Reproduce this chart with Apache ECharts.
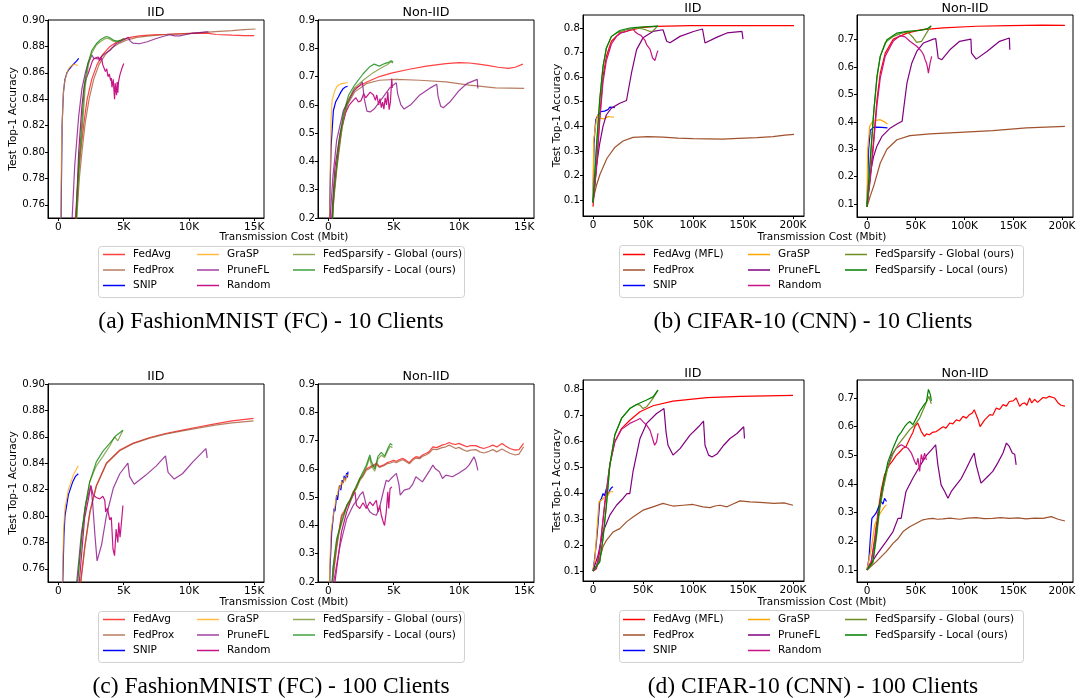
<!DOCTYPE html>
<html>
<head>
<meta charset="utf-8">
<title>FedSparsify transmission cost</title>
<script src="https://cdn.jsdelivr.net/npm/echarts@6/dist/echarts.min.js"></script>
<style>
  html, body { margin: 0; padding: 0; background: #fff; }
  #chart { width: 1080px; height: 698px; }
</style>
</head>
<body>
<div id="chart"></div>
<script>
// x values are transmission cost in K Mbit, y values are test top-1 accuracy
const fmNames = ['FedAvg', 'FedProx', 'SNIP', 'GraSP', 'PruneFL', 'Random',
  'FedSparsify - Global (ours)', 'FedSparsify - Local (ours)'];
const cifarNames = ['FedAvg (MFL)', 'FedProx', 'SNIP', 'GraSP', 'PruneFL', 'Random',
  'FedSparsify - Global (ours)', 'FedSparsify - Local (ours)'];

const fmXTicks = [0, 5, 10, 15];
const cifarXTicks = [0, 50, 100, 150, 200];
const fmIidYTicks = [0.76, 0.78, 0.80, 0.82, 0.84, 0.86, 0.88, 0.90];
const fmNonYTicks = [0.2, 0.3, 0.4, 0.5, 0.6, 0.7, 0.8, 0.9];
const cifarIidYTicks = [0.1, 0.2, 0.3, 0.4, 0.5, 0.6, 0.7, 0.8];
const cifarNonYTicks = [0.1, 0.2, 0.3, 0.4, 0.5, 0.6, 0.7];

// ---- (a) FashionMNIST - 10 clients, IID
const aIidFedAvg = [[1.1,0.60],[1.3,0.75],[1.5,0.78],[1.7,0.80],[1.95,0.822],[2.2,0.84],[2.55,0.855],[2.95,0.866],[3.4,0.874],[3.95,0.880],[4.5,0.8835],[5.0,0.8855],[5.6,0.887],[6.2,0.888],[7.2,0.8888],[8.3,0.8892],[9.5,0.8897],[10.8,0.890],[11.5,0.8898],[12.1,0.889],[13.3,0.8885],[14.2,0.8882],[15.0,0.8882]];
const aIidFedProx = [[1.2,0.6],[1.4,0.75],[1.6,0.78],[1.8,0.80],[2.05,0.822],[2.35,0.84],[2.7,0.855],[3.1,0.866],[3.6,0.874],[4.1,0.879],[4.7,0.8825],[5.3,0.885],[6.0,0.8868],[7.0,0.888],[8.3,0.889],[9.5,0.8895],[10.8,0.8902],[12.0,0.8912],[13.3,0.892],[14.2,0.8927],[15.1,0.8932]];
const aIidSnip = [[0.12,0.5],[0.2,0.75],[0.28,0.82],[0.38,0.845],[0.5,0.855],[0.65,0.86],[0.8,0.8625],[0.95,0.864],[1.1,0.866],[1.25,0.8675],[1.4,0.869],[1.55,0.871]];
const aIidGrasp = [[0.1,0.5],[0.18,0.75],[0.25,0.81],[0.35,0.84],[0.45,0.852],[0.6,0.858],[0.75,0.8625],[0.9,0.8645],[1.05,0.866],[1.2,0.8665],[1.35,0.866],[1.5,0.8655]];
const aIidPruneFl = [[0.95,0.6],[1.05,0.75],[1.25,0.79],[1.55,0.827],[1.8,0.848],[2.06,0.86],[2.3,0.868],[2.56,0.8735],[2.7,0.871],[2.85,0.8695],[3.1,0.8705],[3.5,0.874],[3.96,0.877],[4.4,0.882],[4.8,0.884],[5.1,0.8855],[5.35,0.887],[5.5,0.884],[5.7,0.8825],[6.2,0.882],[6.8,0.8835],[7.5,0.886],[8.0,0.8875],[8.5,0.8888],[8.9,0.888],[9.3,0.888],[9.8,0.889],[10.3,0.890],[10.8,0.8905],[11.3,0.891],[11.5,0.891]];
const aIidRandom = [[1.2,0.6],[1.35,0.75],[1.55,0.80],[1.8,0.835],[1.95,0.848],[2.1,0.855],[2.3,0.86],[2.5,0.866],[2.6,0.869],[2.75,0.871],[2.9,0.8705],[3.05,0.872],[3.15,0.869],[3.3,0.8715],[3.4,0.866],[3.5,0.867],[3.6,0.861],[3.7,0.863],[3.8,0.857],[3.9,0.859],[4.0,0.854],[4.05,0.856],[4.1,0.849],[4.2,0.855],[4.3,0.84],[4.35,0.852],[4.45,0.843],[4.5,0.853],[4.55,0.845],[4.6,0.853],[4.7,0.858],[4.85,0.863],[5.0,0.867]];
const aIidGlobal = [[1.25,0.6],[1.4,0.75],[1.6,0.79],[1.8,0.814],[2.06,0.85],[2.3,0.866],[2.56,0.875],[2.9,0.881],[3.2,0.8835],[3.5,0.8855],[3.7,0.8862],[3.95,0.8855],[4.2,0.884],[4.5,0.8835],[4.8,0.8845],[5.0,0.885]];
const aIidLocal = [[1.2,0.6],[1.35,0.75],[1.55,0.79],[1.75,0.816],[2.0,0.852],[2.25,0.867],[2.56,0.877],[2.9,0.882],[3.2,0.885],[3.5,0.8868],[3.7,0.8875],[3.95,0.8865],[4.2,0.8848],[4.5,0.884],[4.8,0.8848],[5.0,0.886]];

// ---- (a) FashionMNIST - 10 clients, Non-IID
const aNonFedAvg = [[0.2,0.1],[0.35,0.25],[0.63,0.38],[1.0,0.52],[1.4,0.605],[2.0,0.658],[2.9,0.68],[3.9,0.70],[4.9,0.713],[6.2,0.726],[7.5,0.737],[9.0,0.746],[10.0,0.749],[10.8,0.748],[11.5,0.744],[12.3,0.739],[13.0,0.733],[13.8,0.729],[14.3,0.733],[14.9,0.744]];
const aNonFedProx = [[0.2,0.1],[0.38,0.25],[0.66,0.38],[1.05,0.52],[1.45,0.6],[2.0,0.645],[2.9,0.675],[3.9,0.687],[5.2,0.69],[7.0,0.687],[9.0,0.681],[10.8,0.67],[12.8,0.66],[15.0,0.658]];
const aNonSnip = [[0.05,0.1],[0.1,0.25],[0.2,0.45],[0.38,0.58],[0.55,0.61],[0.76,0.628],[0.95,0.645],[1.14,0.658],[1.3,0.663],[1.47,0.666]];
const aNonGrasp = [[0.05,0.1],[0.12,0.3],[0.2,0.55],[0.28,0.616],[0.45,0.645],[0.63,0.664],[0.8,0.67],[1.0,0.675],[1.25,0.677],[1.47,0.679]];
const aNonPruneFl = [[0.05,0.1],[0.13,0.2],[0.35,0.35],[0.63,0.475],[1.14,0.58],[1.9,0.646],[2.4,0.67],[2.6,0.681],[2.75,0.62],[2.95,0.578],[3.2,0.575],[3.5,0.585],[4.2,0.628],[4.7,0.66],[5.2,0.678],[5.3,0.64],[5.55,0.6],[5.8,0.585],[6.3,0.6],[7.0,0.635],[7.8,0.66],[8.3,0.673],[8.4,0.63],[8.6,0.595],[8.8,0.59],[9.3,0.61],[10.0,0.65],[10.6,0.675],[11.4,0.69],[11.45,0.658]];
const aNonRandom = [[0.1,0.1],[0.25,0.2],[0.5,0.38],[0.9,0.5],[1.3,0.57],[1.6,0.6],[1.9,0.616],[2.1,0.625],[2.3,0.61],[2.5,0.615],[2.7,0.64],[2.85,0.625],[3.0,0.63],[3.2,0.645],[3.35,0.652],[3.45,0.635],[3.6,0.616],[3.7,0.635],[3.85,0.6],[3.95,0.622],[4.05,0.59],[4.15,0.61],[4.25,0.585],[4.35,0.625],[4.45,0.6],[4.55,0.645],[4.65,0.583],[4.75,0.61],[4.85,0.693],[4.9,0.66]];
const aNonGlobal = [[0.2,0.1],[0.45,0.3],[0.8,0.45],[1.2,0.56],[1.6,0.625],[2.0,0.661],[2.66,0.687],[3.4,0.713],[4.2,0.735],[4.5,0.742],[4.8,0.752],[4.95,0.748]];
const aNonLocal = [[0.2,0.1],[0.42,0.3],[0.78,0.46],[1.15,0.57],[1.55,0.635],[2.0,0.67],[2.66,0.71],[3.17,0.735],[3.5,0.744],[3.9,0.737],[4.3,0.746],[4.6,0.75],[4.8,0.756],[4.95,0.752]];

// ---- (b) CIFAR-10 - 10 clients, IID
const bIidFedAvg = [[0,0.073],[3.4,0.236],[6.7,0.44],[10,0.603],[13.4,0.685],[18.4,0.746],[26.8,0.78],[36.8,0.79],[50,0.803],[63.6,0.807],[97,0.81],[150,0.81],[201,0.81]];
const bIidFedProx = [[0,0.1],[3.5,0.16],[7,0.205],[14,0.27],[22,0.315],[30,0.34],[40,0.355],[55,0.358],[70,0.356],[85,0.352],[100,0.35],[115,0.349],[130,0.348],[145,0.351],[164,0.354],[180,0.358],[192,0.364],[201,0.367]];
const bIidSnip = [[0,0.09],[1,0.33],[2.7,0.426],[5,0.447],[6.7,0.453],[8,0.46],[10,0.467],[11.5,0.462],[13.4,0.47],[15,0.468],[16.8,0.478],[18.4,0.472],[20,0.477],[21.8,0.476]];
const bIidGrasp = [[0,0.09],[0.7,0.345],[3.4,0.426],[5,0.447],[6.7,0.44],[8,0.432],[10,0.438],[11.5,0.43],[13.4,0.433],[15,0.44],[16.8,0.434],[18.4,0.438],[20.8,0.437]];
const bIidPruneFl = [[0,0.09],[3.4,0.236],[6.7,0.33],[10,0.4],[13.4,0.447],[18.4,0.474],[26.8,0.494],[33.5,0.505],[35.2,0.51],[38.5,0.617],[43.6,0.712],[50,0.76],[60,0.786],[70,0.793],[72,0.793],[73.7,0.746],[77,0.74],[87,0.766],[100.5,0.786],[109.5,0.796],[112,0.739],[114,0.739],[124,0.763],[134,0.78],[149,0.786],[150,0.755]];
const bIidRandom = [[0,0.09],[3.4,0.22],[6.7,0.42],[10,0.58],[13.4,0.668],[18.4,0.735],[23.5,0.766],[28,0.78],[33.5,0.786],[37,0.795],[40,0.796],[42,0.785],[45,0.776],[48,0.77],[50,0.766],[52,0.75],[53.6,0.732],[55,0.728],[57,0.714],[58,0.716],[59.6,0.678],[61,0.685],[62,0.668],[63,0.675],[64,0.698],[65,0.708]];
const bIidGlobal = [[0,0.09],[3.4,0.3],[6.7,0.5],[10,0.64],[13.4,0.72],[18.4,0.765],[23.5,0.78],[33.5,0.793],[43.6,0.8],[50,0.796],[53,0.792],[57,0.786],[60,0.788],[62,0.795],[65,0.81]];
const bIidLocal = [[0,0.09],[3.4,0.318],[6.7,0.51],[10,0.644],[13.4,0.718],[18.4,0.766],[26.8,0.79],[36.8,0.8],[47,0.804],[60,0.807],[65,0.808]];

// ---- (b) CIFAR-10 - 10 clients, Non-IID
const bNonFedAvg = [[0,0.1],[3.4,0.2],[6.8,0.335],[10.2,0.48],[13.6,0.578],[18.7,0.651],[27,0.702],[41,0.724],[54.5,0.736],[78,0.743],[112,0.749],[146,0.751],[180,0.753],[203,0.752]];
const bNonFedProx = [[0,0.09],[3.4,0.13],[6.8,0.165],[13.6,0.25],[20.4,0.3],[30.7,0.335],[44,0.35],[64.7,0.356],[95,0.362],[129,0.368],[163.5,0.378],[203,0.384]];
const bNonSnip = [[0,0.1],[1.7,0.3],[3.4,0.37],[6.8,0.38],[10,0.381],[15,0.38],[21,0.378]];
const bNonGrasp = [[0,0.09],[0.7,0.3],[2.7,0.383],[5,0.398],[8.5,0.405],[13.6,0.408],[17,0.402],[21,0.392]];
const bNonPruneFl = [[0,0.09],[3.4,0.213],[6.8,0.274],[10,0.31],[15.3,0.347],[24,0.378],[30.7,0.392],[36,0.402],[37.5,0.445],[41,0.542],[46,0.615],[51,0.657],[58,0.688],[68,0.702],[70.5,0.704],[73,0.633],[76.7,0.627],[85,0.663],[95,0.694],[106.6,0.702],[107.2,0.651],[112,0.629],[123,0.657],[136,0.694],[146,0.706],[146.5,0.663]];
const bNonRandom = [[0,0.09],[3.4,0.19],[6.8,0.32],[10.2,0.46],[13.6,0.56],[18.7,0.64],[27,0.695],[34,0.715],[39,0.71],[44,0.694],[51,0.676],[56,0.657],[58,0.645],[59.6,0.627],[61,0.615],[62,0.6],[63,0.578],[64,0.6],[65,0.62],[66.4,0.639]];
const bNonGlobal = [[0,0.09],[3.4,0.25],[6.8,0.43],[10.2,0.56],[13.6,0.64],[18.7,0.69],[27,0.712],[34,0.722],[41,0.728],[44,0.72],[47.7,0.706],[51,0.69],[56,0.694],[61,0.724],[65.4,0.749]];
const bNonLocal = [[0,0.09],[3.4,0.27],[6.8,0.432],[10.2,0.566],[13.6,0.639],[20.4,0.7],[30.7,0.724],[41,0.73],[54.5,0.734],[62,0.74],[66,0.751]];

// ---- (c) FashionMNIST - 100 clients, IID
const cIidFedAvg = [[1.55,0.6],[1.7,0.75],[2.03,0.778],[2.4,0.803],[2.9,0.823],[3.67,0.84],[4.7,0.85],[5.7,0.855],[7.0,0.8595],[8.2,0.8625],[9.5,0.865],[10.8,0.8676],[12.0,0.8698],[13.3,0.872],[14.95,0.874]];
const cIidFedProx = [[1.55,0.6],[1.72,0.75],[2.05,0.778],[2.42,0.803],[2.92,0.823],[3.7,0.84],[4.7,0.8495],[5.7,0.8548],[7.0,0.859],[8.2,0.862],[9.5,0.8645],[10.8,0.8668],[12.0,0.8688],[13.3,0.8705],[14.95,0.872]];
const cIidSnip = [[0.25,0.6],[0.33,0.75],[0.42,0.785],[0.5,0.8],[0.76,0.816],[1.1,0.826],[1.3,0.83],[1.52,0.832]];
const cIidGrasp = [[0.22,0.6],[0.3,0.75],[0.4,0.79],[0.5,0.806],[0.76,0.82],[1.14,0.831],[1.35,0.835],[1.52,0.838]];
const cIidPruneFl = [[1.25,0.6],[1.4,0.75],[1.77,0.788],[2.15,0.811],[2.48,0.823],[2.62,0.81],[2.8,0.785],[2.96,0.766],[3.3,0.778],[3.67,0.8],[4.2,0.821],[4.7,0.832],[5.32,0.84],[5.45,0.83],[5.8,0.824],[6.7,0.831],[7.5,0.838],[8.2,0.8455],[8.4,0.833],[8.87,0.828],[9.5,0.832],[10.3,0.841],[11.3,0.851],[11.4,0.844]];
const cIidRandom = [[1.45,0.6],[1.6,0.75],[2.0,0.798],[2.3,0.813],[2.48,0.823],[2.66,0.816],[2.9,0.814],[3.17,0.813],[3.4,0.815],[3.55,0.812],[3.62,0.803],[3.75,0.806],[3.93,0.797],[4.05,0.799],[4.18,0.775],[4.3,0.77],[4.42,0.79],[4.55,0.78],[4.62,0.795],[4.72,0.784],[4.8,0.792],[4.94,0.808]];
const cIidGlobal = [[1.3,0.6],[1.47,0.75],[1.77,0.783],[2.03,0.806],[2.4,0.826],[2.9,0.838],[3.4,0.845],[3.93,0.853],[4.3,0.86],[4.55,0.857],[4.94,0.865]];
const cIidLocal = [[1.3,0.6],[1.47,0.75],[1.77,0.783],[2.03,0.806],[2.4,0.826],[2.9,0.841],[3.4,0.849],[3.93,0.855],[4.43,0.861],[4.94,0.865]];

// ---- (c) FashionMNIST - 100 clients, Non-IID
const cNonFedAvg = [[0.15,0.1],[0.3,0.2],[0.63,0.33],[1.0,0.436],[1.2,0.45],[1.4,0.47],[1.65,0.49],[1.9,0.52],[2.15,0.535],[2.4,0.566],[2.6,0.575],[2.9,0.6],[3.1,0.605],[3.4,0.613],[3.7,0.62],[3.9,0.608],[4.2,0.613],[4.5,0.622],[4.7,0.625],[5.0,0.63],[5.2,0.627],[5.45,0.633],[5.7,0.637],[5.95,0.63],[6.2,0.622],[6.45,0.635],[6.7,0.643],[7.0,0.64],[7.2,0.649],[7.5,0.655],[7.7,0.66],[8.0,0.678],[8.3,0.675],[8.7,0.684],[9.0,0.688],[9.25,0.693],[9.5,0.688],[9.75,0.686],[10.0,0.69],[10.3,0.684],[10.6,0.678],[10.9,0.682],[11.3,0.682],[11.6,0.676],[11.9,0.672],[12.3,0.678],[12.6,0.684],[12.9,0.677],[13.3,0.69],[13.6,0.68],[13.9,0.672],[14.3,0.666],[14.6,0.668],[14.95,0.69]];
const cNonFedProx = [[0.15,0.1],[0.3,0.2],[0.63,0.32],[1.0,0.43],[1.2,0.445],[1.4,0.465],[1.65,0.485],[1.9,0.515],[2.15,0.53],[2.4,0.56],[2.6,0.57],[2.9,0.595],[3.1,0.6],[3.4,0.608],[3.7,0.615],[3.9,0.605],[4.2,0.61],[4.5,0.618],[4.7,0.62],[5.0,0.625],[5.2,0.622],[5.45,0.628],[5.7,0.632],[5.95,0.625],[6.2,0.618],[6.45,0.63],[6.7,0.638],[7.0,0.636],[7.2,0.644],[7.5,0.65],[7.7,0.655],[8.0,0.67],[8.3,0.668],[8.7,0.675],[9.0,0.678],[9.25,0.684],[9.5,0.678],[9.75,0.672],[10.0,0.676],[10.3,0.668],[10.6,0.662],[10.9,0.666],[11.3,0.668],[11.6,0.66],[11.9,0.656],[12.3,0.662],[12.6,0.668],[12.9,0.66],[13.3,0.67],[13.6,0.662],[13.9,0.655],[14.3,0.649],[14.6,0.652],[14.95,0.678]];
const cNonSnip = [[0.05,0.1],[0.12,0.25],[0.25,0.377],[0.35,0.42],[0.43,0.46],[0.5,0.45],[0.63,0.507],[0.7,0.49],[0.8,0.53],[0.89,0.542],[0.95,0.525],[1.05,0.56],[1.14,0.55],[1.2,0.575],[1.3,0.56],[1.39,0.585],[1.45,0.57],[1.5,0.59]];
const cNonGrasp = [[0.05,0.1],[0.1,0.25],[0.2,0.38],[0.3,0.41],[0.4,0.445],[0.5,0.47],[0.6,0.5],[0.7,0.51],[0.8,0.54],[0.9,0.53],[1.0,0.555],[1.1,0.545],[1.2,0.57],[1.3,0.555],[1.4,0.58],[1.5,0.575]];
const cNonPruneFl = [[0.25,0.1],[0.4,0.2],[0.9,0.33],[1.4,0.424],[1.9,0.471],[2.2,0.49],[2.4,0.507],[2.65,0.519],[2.9,0.471],[3.17,0.448],[3.4,0.44],[3.67,0.436],[3.9,0.46],[4.2,0.519],[4.43,0.56],[4.6,0.555],[4.8,0.566],[5.0,0.575],[5.2,0.584],[5.4,0.545],[5.5,0.507],[5.8,0.525],[6.2,0.53],[6.45,0.545],[6.7,0.572],[7.2,0.554],[7.7,0.59],[8.0,0.613],[8.2,0.6],[8.5,0.59],[8.74,0.566],[9.0,0.578],[9.5,0.572],[10.0,0.585],[10.5,0.6],[10.8,0.615],[11.0,0.631],[11.15,0.643],[11.3,0.625],[11.45,0.595]];
const cNonRandom = [[0.3,0.1],[0.5,0.2],[1.0,0.377],[1.4,0.448],[1.77,0.495],[2.03,0.519],[2.15,0.471],[2.4,0.46],[2.65,0.48],[2.9,0.46],[3.17,0.483],[3.4,0.47],[3.67,0.489],[3.8,0.448],[3.93,0.47],[4.05,0.436],[4.2,0.412],[4.3,0.4],[4.43,0.448],[4.55,0.519],[4.62,0.46],[4.72,0.53],[4.86,0.536]];
const cNonGlobal = [[0.15,0.1],[0.35,0.25],[0.63,0.345],[1.0,0.405],[1.4,0.465],[1.77,0.495],[2.15,0.535],[2.53,0.57],[2.9,0.605],[3.17,0.64],[3.3,0.61],[3.55,0.592],[3.8,0.635],[4.05,0.648],[4.3,0.64],[4.55,0.665],[4.74,0.68],[4.9,0.675]];
const cNonLocal = [[0.15,0.1],[0.35,0.25],[0.63,0.353],[1.0,0.412],[1.4,0.471],[1.77,0.5],[2.15,0.542],[2.53,0.578],[2.9,0.613],[3.17,0.649],[3.3,0.625],[3.55,0.6],[3.8,0.645],[4.05,0.658],[4.3,0.645],[4.55,0.672],[4.74,0.69],[4.9,0.683]];

// ---- (d) CIFAR-10 - 100 clients, IID
const dIidFedAvg = [[0,0.1],[3.4,0.109],[6.7,0.174],[11.7,0.353],[16.8,0.507],[21.8,0.597],[28.5,0.648],[36.8,0.68],[47,0.713],[60,0.736],[80,0.754],[114,0.767],[147,0.772],[200,0.776]];
const dIidFedProx = [[0,0.1],[3.4,0.12],[6.7,0.148],[10,0.193],[13.4,0.218],[20,0.25],[26.8,0.263],[33.5,0.289],[40,0.308],[50,0.334],[60,0.347],[70,0.36],[75,0.355],[80,0.35],[90,0.353],[100,0.356],[110,0.347],[117,0.344],[122,0.35],[127,0.353],[134,0.347],[140,0.358],[147,0.37],[157,0.366],[167,0.364],[181,0.36],[191,0.362],[200,0.353]];
const dIidSnip = [[0,0.1],[1.7,0.15],[3.4,0.21],[5,0.28],[6.7,0.366],[8.5,0.38],[10,0.398],[11.5,0.39],[13.4,0.417],[15,0.392],[16.8,0.411],[18.4,0.42],[20,0.424]];
const dIidGrasp = [[0,0.1],[2,0.15],[3.4,0.23],[6,0.366],[8.4,0.372],[11.7,0.385],[15,0.392],[16.8,0.405],[18.4,0.398],[20,0.405]];
const dIidPruneFl = [[0,0.1],[5,0.16],[10,0.25],[16.8,0.315],[23.5,0.353],[30,0.379],[34,0.398],[36.8,0.398],[40,0.482],[47,0.61],[53.6,0.668],[63.6,0.706],[71,0.725],[73,0.636],[75,0.584],[80,0.546],[87,0.571],[97,0.623],[105.5,0.655],[110.5,0.677],[112,0.584],[115.6,0.546],[119,0.539],[124,0.55],[130.7,0.584],[137,0.61],[144,0.629],[150.7,0.655],[151.5,0.61]];
const dIidRandom = [[0,0.1],[3.4,0.11],[6.7,0.18],[11.7,0.36],[16.8,0.51],[21.8,0.597],[28.5,0.645],[36.8,0.668],[43.6,0.68],[47,0.687],[50,0.675],[53.6,0.661],[57,0.642],[60,0.604],[61.6,0.584],[63.6,0.597],[65,0.63]];
const dIidGlobal = [[0,0.1],[6.7,0.135],[10,0.225],[13.4,0.353],[16.8,0.507],[21.8,0.623],[28.5,0.687],[36.8,0.725],[43.6,0.741],[47,0.738],[50,0.725],[53.6,0.732],[60,0.764],[65,0.796]];
const dIidLocal = [[0,0.1],[6.7,0.135],[10,0.225],[13.4,0.353],[16.8,0.507],[21.8,0.623],[28.5,0.687],[36.8,0.725],[43.6,0.741],[53.6,0.758],[60,0.77],[65,0.796]];

// ---- (d) CIFAR-10 - 100 clients, Non-IID
const dNonFedAvg = [[0,0.1],[4.4,0.129],[7.9,0.21],[11.3,0.304],[14.7,0.38],[18,0.432],[23,0.467],[26,0.48],[30,0.5],[33,0.51],[37,0.525],[40,0.53],[44,0.56],[47,0.58],[49,0.6],[52,0.613],[55.7,0.583],[59,0.566],[61,0.575],[64,0.572],[67,0.58],[71,0.583],[74,0.59],[78,0.6],[81,0.595],[85,0.613],[88,0.61],[91.6,0.624],[95,0.62],[98.5,0.636],[102,0.63],[105,0.642],[108,0.648],[110,0.659],[114,0.624],[116,0.6],[120.7,0.624],[126,0.642],[129,0.64],[132.6,0.665],[136,0.66],[139.5,0.677],[143,0.672],[146,0.688],[150,0.69],[153,0.7],[156.6,0.671],[159,0.68],[161.7,0.683],[164,0.675],[166.8,0.7],[169,0.683],[172,0.695],[175,0.685],[180.5,0.702],[184,0.7],[187,0.706],[192.5,0.7],[196,0.683],[199,0.675],[201,0.671],[203,0.672]];
const dNonFedProx = [[0,0.1],[9.6,0.129],[19.8,0.164],[26.7,0.193],[32,0.21],[37,0.234],[43.8,0.251],[50.6,0.263],[57.4,0.275],[62,0.278],[67.7,0.28],[72,0.277],[78,0.278],[85,0.281],[95,0.277],[103,0.281],[112,0.283],[120,0.279],[129,0.28],[137,0.283],[146,0.28],[155,0.282],[163,0.278],[172,0.281],[180.5,0.28],[189,0.286],[196,0.277],[203,0.271]];
const dNonSnip = [[0,0.1],[2,0.14],[3.4,0.21],[5,0.28],[6.5,0.285],[7.9,0.292],[9.5,0.3],[11.3,0.315],[13,0.32],[14.7,0.339],[16.4,0.33],[18,0.35],[19,0.345],[20,0.339]];
const dNonGrasp = [[0,0.1],[4.4,0.175],[7.9,0.257],[11.3,0.286],[14.7,0.304],[16.5,0.31],[18,0.321],[20,0.327]];
const dNonPruneFl = [[0,0.1],[9.6,0.152],[19.8,0.2],[26.7,0.234],[31.8,0.28],[35,0.28],[40,0.374],[47,0.42],[54,0.461],[61,0.5],[67.7,0.525],[70.4,0.537],[72.7,0.467],[76,0.397],[79.7,0.374],[83,0.35],[86.5,0.374],[91.6,0.397],[96.8,0.42],[102,0.455],[107,0.49],[110,0.508],[112,0.467],[115.6,0.42],[117,0.403],[122,0.42],[129,0.444],[134,0.473],[139.5,0.508],[143,0.543],[146,0.531],[149,0.508],[151.5,0.504],[153,0.467]];
const dNonRandom = [[0,0.1],[4.4,0.13],[7.9,0.2],[11.3,0.29],[14.7,0.35],[19.8,0.444],[25,0.5],[30,0.525],[35,0.537],[38.6,0.531],[42,0.525],[45.5,0.508],[49,0.478],[50.6,0.467],[52.3,0.49],[54,0.444],[55.7,0.503],[57.4,0.48],[59,0.508],[61,0.484]];
const dNonGlobal = [[0,0.1],[6,0.125],[9.6,0.21],[13,0.31],[16.4,0.38],[21.5,0.46],[26.7,0.505],[31.8,0.537],[38.6,0.566],[43.8,0.59],[49,0.607],[54,0.63],[59,0.67],[61.5,0.69],[63.5,0.706],[65,0.69],[66,0.68]];
const dNonLocal = [[0,0.1],[6,0.129],[9.6,0.222],[13,0.327],[16.4,0.397],[21.5,0.478],[26.7,0.525],[31.8,0.566],[35,0.58],[38.6,0.6],[41,0.61],[43.8,0.618],[47,0.607],[50.6,0.63],[54,0.653],[57.4,0.671],[61,0.688],[63,0.73],[65,0.712],[66,0.69]];

const colors = ['#ff0000', '#a0522d', '#0000ff', '#ffa500', '#800080', '#c71585', '#6b8e23', '#008000'];
// FashionMNIST figures were drawn a bit faded (SNIP / Random kept solid)
const fmAlpha = [0.75, 0.75, 1, 0.75, 0.75, 1, 0.75, 0.75];
const SANS = 'DejaVu Sans';
const SERIF = 'Liberation Serif';

const panels = [
  { grid: [48, 20, 216, 198], x: [-0.8, 15.75], y: [0.75, 0.90], xt: fmXTicks, yt: fmIidYTicks, dec: 2, names: fmNames, fm: true, yName: 29,
    data: [aIidFedAvg, aIidFedProx, aIidSnip, aIidGrasp, aIidPruneFl, aIidRandom, aIidGlobal, aIidLocal] },
  { grid: [318, 20, 216, 198], x: [-0.8, 15.75], y: [0.2, 0.9], xt: fmXTicks, yt: fmNonYTicks, dec: 1, names: fmNames, fm: true,
    data: [aNonFedAvg, aNonFedProx, aNonSnip, aNonGrasp, aNonPruneFl, aNonRandom, aNonGlobal, aNonLocal] },
  { grid: [583, 15, 221, 201], x: [-10, 211], y: [0.035, 0.853], xt: cifarXTicks, yt: cifarIidYTicks, dec: 1, names: cifarNames, yName: 20,
    data: [bIidFedAvg, bIidFedProx, bIidSnip, bIidGrasp, bIidPruneFl, bIidRandom, bIidGlobal, bIidLocal] },
  { grid: [857, 15, 216, 202], x: [-10.26, 211.3], y: [0.053, 0.79], xt: cifarXTicks, yt: cifarNonYTicks, dec: 1, names: cifarNames,
    data: [bNonFedAvg, bNonFedProx, bNonSnip, bNonGrasp, bNonPruneFl, bNonRandom, bNonGlobal, bNonLocal] },
  { grid: [48, 384, 216, 198], x: [-0.8, 15.75], y: [0.75, 0.90], xt: fmXTicks, yt: fmIidYTicks, dec: 2, names: fmNames, fm: true, yName: 29,
    data: [cIidFedAvg, cIidFedProx, cIidSnip, cIidGrasp, cIidPruneFl, cIidRandom, cIidGlobal, cIidLocal] },
  { grid: [318, 384, 216, 198], x: [-0.8, 15.75], y: [0.2, 0.9], xt: fmXTicks, yt: fmNonYTicks, dec: 1, names: fmNames, fm: true,
    data: [cNonFedAvg, cNonFedProx, cNonSnip, cNonGrasp, cNonPruneFl, cNonRandom, cNonGlobal, cNonLocal] },
  { grid: [583, 380, 221, 201], x: [-10, 211], y: [0.0615, 0.835], xt: cifarXTicks, yt: cifarIidYTicks, dec: 1, names: cifarNames, yName: 20,
    data: [dIidFedAvg, dIidFedProx, dIidSnip, dIidGrasp, dIidPruneFl, dIidRandom, dIidGlobal, dIidLocal] },
  { grid: [857, 380, 216, 202], x: [-10.26, 211.3], y: [0.058, 0.763], xt: cifarXTicks, yt: cifarNonYTicks, dec: 1, names: cifarNames,
    data: [dNonFedAvg, dNonFedProx, dNonSnip, dNonGrasp, dNonPruneFl, dNonRandom, dNonGlobal, dNonLocal] }
];

const grids = [], xAxes = [], yAxes = [], series = [];
panels.forEach((p, i) => {
  grids.push({ left: p.grid[0], top: p.grid[1], width: p.grid[2], height: p.grid[3],
    show: true, borderColor: '#000', borderWidth: 1, backgroundColor: 'transparent' });
  xAxes.push({
    type: 'value', gridIndex: i, min: p.x[0], max: p.x[1],
    axisLine: { onZero: false, lineStyle: { color: '#000' } },
    axisTick: { length: 3, lineStyle: { color: '#000' }, customValues: p.xt },
    axisLabel: { customValues: p.xt, margin: 4, color: '#000', fontFamily: SANS, fontSize: 10.5,
      formatter: v => v === 0 ? '0' : v + 'K' },
    splitLine: { show: false }
  });
  yAxes.push({
    type: 'value', gridIndex: i, min: p.y[0], max: p.y[1],
    name: p.yName ? 'Test Top-1 Accuracy' : '', nameLocation: 'middle', nameGap: p.yName || 20, nameMoveOverlap: false,
    nameTextStyle: { color: '#000', fontFamily: SANS, fontSize: 10.5 },
    axisLine: { onZero: false, lineStyle: { color: '#000' } },
    axisTick: { length: 3, lineStyle: { color: '#000' }, customValues: p.yt },
    axisLabel: { customValues: p.yt, margin: 3, color: '#000', fontFamily: SANS, fontSize: 10.2,
      formatter: v => v.toFixed(p.dec) },
    splitLine: { show: false }
  });
  p.data.forEach((d, k) => {
    const a = p.fm ? fmAlpha[k] : 1;
    series.push({
      type: 'line', name: p.names[k], xAxisIndex: i, yAxisIndex: i,
      data: d, symbol: 'none', clip: true, animation: false,
      color: colors[k],
      itemStyle: { color: colors[k], opacity: a },
      lineStyle: { width: 1.2, color: colors[k], opacity: a }
    });
  });
});

// legend columns: [left, top, names, first method index, faded]
const legendCols = [];
[0, 365].forEach(dy => {
  legendCols.push([103, 248 + dy, fmNames, 0, true], [197, 248 + dy, fmNames, 3, true], [293, 248 + dy, fmNames, 6, true]);
  legendCols.push([623, 248 + dy, cifarNames, 0, false], [748, 248 + dy, cifarNames, 3, false], [845, 248 + dy, cifarNames, 6, false]);
});
const legends = legendCols.map(c => {
  const idx = [c[3], c[3] + 1, c[3] + 2].filter(k => k < 8);
  return {
    orient: 'vertical', left: c[0], top: c[1], padding: 0, itemGap: 2.5,
    icon: 'rect', itemWidth: 22, itemHeight: 1.5, selectedMode: false,
    data: idx.map(k => ({ name: c[2][k], itemStyle: { color: colors[k], opacity: c[4] ? fmAlpha[k] : 1 } })),
    textStyle: { fontFamily: SANS, fontSize: 10.5, color: '#000', lineHeight: 13, padding: [0, 0, 0, 3] }
  };
});

const txt = (text, x, y, size, family) => ({
  text, left: x, top: y, textAlign: 'center', padding: 0,
  textStyle: { fontFamily: family, fontSize: size, fontWeight: 'normal', color: '#000' }
});
const titles = [
  txt('IID', 156, 6, 12.7, SANS), txt('Non-IID', 426, 6, 12.7, SANS),
  txt('IID', 693, 2, 12.7, SANS), txt('Non-IID', 965, 2, 12.7, SANS),
  txt('IID', 156, 370, 12.7, SANS), txt('Non-IID', 426, 370, 12.7, SANS),
  txt('IID', 693, 367, 12.7, SANS), txt('Non-IID', 965, 367, 12.7, SANS),
  txt('Transmission Cost (Mbit)', 284, 232, 10.5, SANS), txt('Transmission Cost (Mbit)', 822, 232, 10.5, SANS),
  txt('Transmission Cost (Mbit)', 284, 597, 10.5, SANS), txt('Transmission Cost (Mbit)', 822, 597, 10.5, SANS),
  txt('(a) FashionMNIST (FC) - 10 Clients', 271, 310, 23.5, SERIF),
  txt('(b) CIFAR-10 (CNN) - 10 Clients', 813, 310, 23.5, SERIF),
  txt('(c) FashionMNIST (FC) - 100 Clients', 271, 675, 23.5, SERIF),
  txt('(d) CIFAR-10 (CNN) - 100 Clients', 813, 675, 23.5, SERIF)
];

const boxes = [[98, 246, 366, 51], [619, 245, 404, 52], [98, 611, 366, 51], [619, 610, 404, 52]].map(b => ({
  type: 'rect', left: b[0], top: b[1], z: -1,
  shape: { width: b[2], height: b[3], r: 3 },
  style: { fill: '#fff', stroke: '#d0d0d0', lineWidth: 1 }
}));

const chart = echarts.init(document.getElementById('chart'), null, { renderer: 'canvas' });
chart.setOption({
  animation: false,
  backgroundColor: '#fff',
  title: titles,
  legend: legends,
  graphic: boxes,
  grid: grids,
  xAxis: xAxes,
  yAxis: yAxes,
  series: series
});
</script>
</body>
</html>
